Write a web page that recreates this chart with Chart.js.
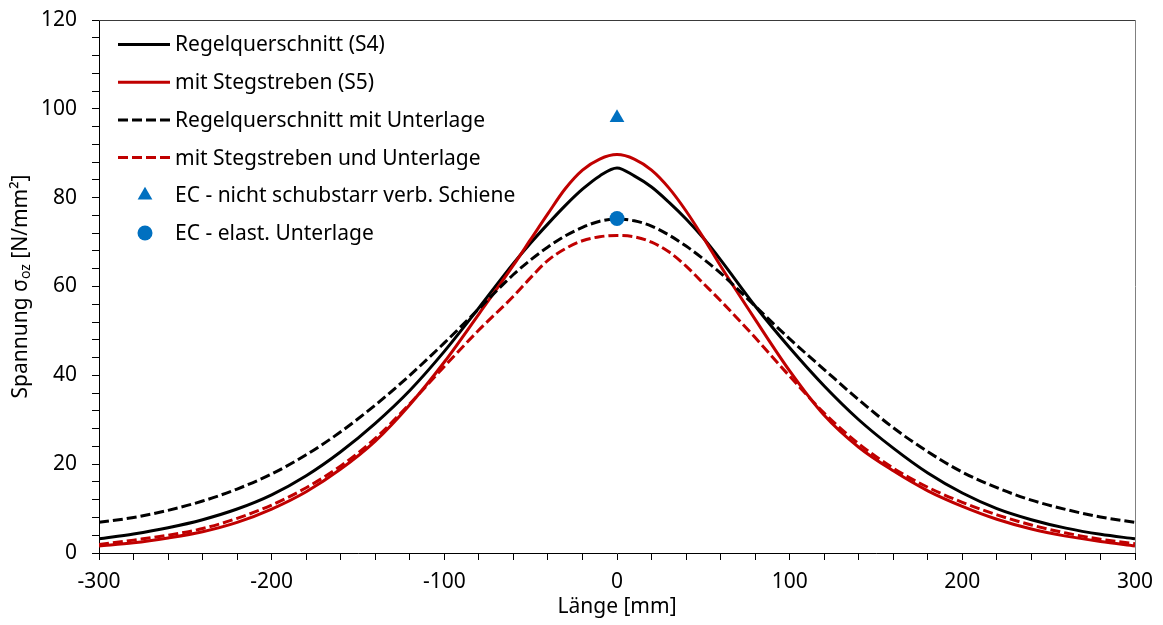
<!DOCTYPE html>
<html>
<head>
<meta charset="utf-8">
<title>Spannung entlang der Länge</title>
<script src="https://cdn.jsdelivr.net/npm/chart.js@4.4.1/dist/chart.umd.min.js"></script>
<style>
  html, body { margin: 0; padding: 0; background: #ffffff; }
  #wrap { width: 1163px; height: 625px; }
</style>
</head>
<body>
<div id="wrap"><canvas id="chart" width="1163" height="625"></canvas></div>
<script>
// Länge [mm] of each computed section
const laenge = [-300, -280, -260, -240, -220, -200, -180, -160, -140, -120, -100, -80, -60, -50, -40, -30, -20, -10, 0,
                10, 20, 30, 40, 50, 60, 80, 100, 120, 140, 160, 180, 200, 220, 240, 260, 280, 300];

// Spannung sigma_oz [N/mm²]
const regelquerschnittS4 = [3.2, 4.3, 5.7, 7.5, 9.9, 13.1, 17.4, 22.8, 29.2, 36.6, 45.4, 55.2, 65.2, 69.8, 74.1, 78.2, 81.9, 84.9, 86.7,
                            84.9, 82.4, 79.0, 75.2, 70.9, 66.0, 55.6, 46.2, 37.6, 30.0, 23.6, 18.0, 13.5, 10.0, 7.5, 5.6, 4.2, 3.2];
const stegstrebenS5 = [1.6, 2.3, 3.4, 4.8, 6.9, 9.9, 13.8, 18.9, 25.2, 33.4, 43.0, 53.8, 64.8, 70.6, 76.4, 82.0, 86.2, 88.7, 89.7,
                       88.7, 86.2, 82.2, 77.0, 71.0, 64.6, 52.6, 41.0, 31.0, 23.8, 18.5, 14.0, 10.5, 7.6, 5.4, 3.8, 2.6, 1.6];
const regelMitUnterlage = [6.9, 8.0, 9.6, 11.7, 14.4, 17.8, 22.1, 27.3, 33.3, 40.0, 47.3, 55.0, 62.7, 66.0, 68.9, 71.4, 73.3, 74.7, 75.2,
                           74.8, 73.6, 71.6, 69.1, 66.2, 63.0, 55.6, 48.2, 41.3, 34.5, 28.2, 22.8, 18.2, 14.7, 11.9, 9.8, 8.1, 6.9];
const stegMitUnterlage = [1.9, 2.9, 4.0, 5.5, 7.8, 10.8, 14.7, 19.6, 25.8, 33.6, 42.0, 50.2, 57.8, 62.0, 65.9, 68.5, 70.3, 71.2, 71.5,
                          71.2, 70.0, 67.8, 64.6, 60.7, 56.8, 48.5, 39.8, 31.5, 24.6, 19.1, 14.8, 11.4, 8.6, 6.3, 4.5, 3.1, 2.1];

// Eurocode reference values at mid-span
const ecLaenge = [0];
const ecSchiene = [98.0];
const ecUnterlage = [75.3];

// Axis ticks
const xTickLabels = [-300, -200, -100, 0, 100, 200, 300];
const yTickLabels = [0, 20, 40, 60, 80, 100, 120];

const FONT = "'Noto Sans', 'Open Sans', sans-serif";
const SCHWARZ = '#000000';
const ROT = '#C00000';
const BLAU = '#0070C0';

const toPoints = (xs, ys) => xs.map((x, i) => ({ x: x, y: ys[i] }));

const datasets = [
  { label: 'Regelquerschnitt (S4)', data: toPoints(laenge, regelquerschnittS4),
    borderColor: SCHWARZ, borderWidth: 3, borderDash: [], order: 5 },
  { label: 'mit Stegstreben (S5)', data: toPoints(laenge, stegstrebenS5),
    borderColor: ROT, borderWidth: 3, borderDash: [], order: 4 },
  { label: 'Regelquerschnitt mit Unterlage', data: toPoints(laenge, regelMitUnterlage),
    borderColor: SCHWARZ, borderWidth: 3, borderDash: [10, 4], order: 3 },
  { label: 'mit Stegstreben und Unterlage', data: toPoints(laenge, stegMitUnterlage),
    borderColor: ROT, borderWidth: 3, borderDash: [10, 4], order: 2 },
  { label: 'EC - nicht schubstarr verb. Schiene', data: toPoints(ecLaenge, ecSchiene),
    showLine: false, pointStyle: 'triangle', pointRadius: 8.5, pointBorderWidth: 0,
    backgroundColor: BLAU, borderColor: BLAU, order: 1 },
  { label: 'EC - elast. Unterlage', data: toPoints(ecLaenge, ecUnterlage),
    showLine: false, pointStyle: 'circle', pointRadius: 7.5, pointBorderWidth: 0,
    backgroundColor: BLAU, borderColor: BLAU, order: 0 }
];
datasets.forEach(ds => {
  ds.fill = false;
  if (ds.showLine !== false) {
    ds.pointRadius = 0;
    ds.cubicInterpolationMode = 'monotone';
    ds.borderCapStyle = 'butt';
  }
});

// Frame on the top and right edge of the plot area
const frame = {
  id: 'frame',
  beforeDatasetsDraw(chart) {
    const { ctx, chartArea: a } = chart;
    ctx.save();
    ctx.lineWidth = 1;
    ctx.strokeStyle = '#3a3a3a';
    ctx.beginPath();
    ctx.moveTo(a.left, Math.round(a.top) + 0.5);
    ctx.lineTo(a.right, Math.round(a.top) + 0.5);
    ctx.stroke();
    ctx.strokeStyle = '#808080';
    ctx.beginPath();
    ctx.moveTo(Math.round(a.right) + 0.5, a.top);
    ctx.lineTo(Math.round(a.right) + 0.5, a.bottom);
    ctx.stroke();
    ctx.restore();
  }
};

// Legend inside the plot area, upper left
const innerLegend = {
  id: 'innerLegend',
  afterDraw(chart) {
    const { ctx, chartArea: a } = chart;
    const lineX0 = a.left + 19, lineX1 = a.left + 71, textX = a.left + 76;
    const markX = a.left + 46;
    const rowY0 = a.top + 24.5, rowStep = 37.7;
    ctx.save();
    ctx.font = '21px ' + FONT;
    ctx.textBaseline = 'middle';
    ctx.textAlign = 'left';
    chart.data.datasets.forEach((ds, i) => {
      const y = rowY0 + i * rowStep;
      if (ds.showLine === false) {
        ctx.fillStyle = ds.backgroundColor;
        ctx.strokeStyle = ds.borderColor;
        Chart.helpers.drawPoint(ctx, {
          pointStyle: ds.pointStyle, radius: ds.pointRadius, rotation: 0, borderWidth: 0
        }, markX, y);
      } else {
        ctx.strokeStyle = ds.borderColor;
        ctx.lineWidth = ds.borderWidth;
        ctx.lineCap = 'butt';
        ctx.setLineDash(ds.borderDash);
        ctx.beginPath();
        ctx.moveTo(lineX0, y);
        ctx.lineTo(lineX1, y);
        ctx.stroke();
        ctx.setLineDash([]);
      }
      ctx.fillStyle = '#000000';
      ctx.fillText(ds.label, textX, y + 1);
    });
    ctx.restore();
  }
};

// Axis titles (the y title carries a subscript)
const axisTitles = {
  id: 'axisTitles',
  afterDraw(chart) {
    const { ctx, chartArea: a } = chart;
    ctx.save();
    ctx.fillStyle = '#000000';
    ctx.textBaseline = 'middle';
    ctx.textAlign = 'center';
    ctx.font = '21px ' + FONT;
    ctx.fillText('Länge [mm]', (a.left + a.right) / 2, 607);

    const parts = [
      { t: 'Spannung σ', f: '21px ' + FONT, dy: 0 },
      { t: 'oz', f: '14px ' + FONT, dy: 5 },
      { t: ' [N/mm²]', f: '21px ' + FONT, dy: 0 }
    ];
    let total = 0;
    parts.forEach(p => { ctx.font = p.f; p.w = ctx.measureText(p.t).width; total += p.w; });
    ctx.translate(21, (a.top + a.bottom) / 2);
    ctx.rotate(-Math.PI / 2);
    ctx.textAlign = 'left';
    let x = -total / 2;
    parts.forEach(p => { ctx.font = p.f; ctx.fillText(p.t, x, p.dy); x += p.w; });
    ctx.restore();
  }
};

new Chart(document.getElementById('chart'), {
  type: 'line',
  data: { datasets: datasets },
  options: {
    responsive: false,
    animation: false,
    events: [],
    layout: { padding: { top: 20, right: 28, bottom: 0, left: 0 } },
    plugins: { legend: { display: false }, tooltip: { enabled: false }, title: { display: false } },
    scales: {
      x: {
        type: 'linear', min: -300, max: 300,
        afterFit(scale) { scale.height = 72; scale.paddingLeft = 0; scale.paddingRight = 0; },
        ticks: {
          stepSize: 20, autoSkip: false, maxRotation: 0, padding: 9,
          color: '#000000', font: { family: FONT, size: 21 },
          callback: v => (xTickLabels.includes(v) ? String(v) : '')
        },
        grid: { drawOnChartArea: false, drawTicks: true, tickLength: 7, color: '#000000', lineWidth: 1 },
        border: { display: true, color: '#000000', width: 1 }
      },
      y: {
        type: 'linear', min: 0, max: 120,
        afterFit(scale) { scale.width = 99; scale.paddingTop = 0; scale.paddingBottom = 0; },
        ticks: {
          stepSize: 4, autoSkip: false, padding: 15,
          color: '#000000', font: { family: FONT, size: 21 },
          callback: v => (yTickLabels.includes(v) ? String(v) : '')
        },
        grid: { drawOnChartArea: false, drawTicks: true, tickLength: 7, color: '#000000', lineWidth: 1 },
        border: { display: true, color: '#000000', width: 1 }
      }
    }
  },
  plugins: [frame, innerLegend, axisTitles]
});
</script>
</body>
</html>
